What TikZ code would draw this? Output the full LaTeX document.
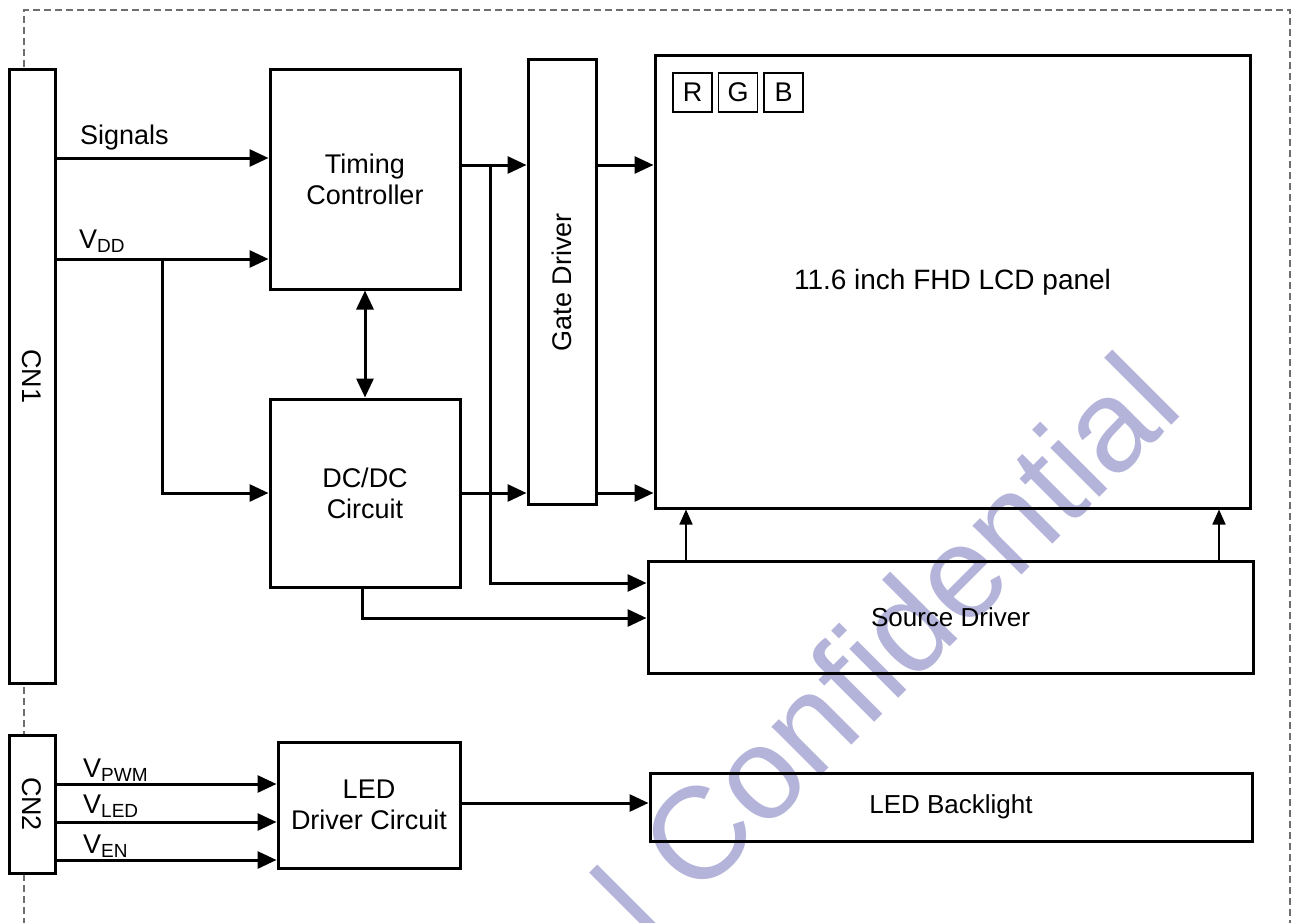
\documentclass[tikz,border=0pt]{standalone}
\usepackage{fontspec}
\setmainfont{Liberation Sans}
\usetikzlibrary{arrows.meta}
\definecolor{wmark}{RGB}{180,180,218}
\definecolor{dashgray}{RGB}{110,110,110}
\newcommand{\lbl}{\fontsize{27}{31}\selectfont}
\newcommand{\sbs}[1]{\raisebox{-4pt}{\fontsize{19}{19}\selectfont #1}}
\begin{document}
\begin{tikzpicture}[x=1pt,y=-1pt,
  box/.style={draw, line width=3pt, inner sep=0pt, align=center, font=\lbl},
  rgbbox/.style={draw, line width=1.3pt, inner sep=0pt, minimum width=39pt, minimum height=39pt, font=\lbl},
  txt/.style={inner sep=0pt, align=center, font=\lbl},
  arr/.style={line width=3pt, -{Triangle[length=19pt,width=17pt]}},
  darr/.style={line width=3pt, {Triangle[length=19pt,width=17pt]}-{Triangle[length=19pt,width=17pt]}},
  thinarr/.style={line width=1.6pt, -{Triangle[length=15pt,width=13pt]}}]
\clip (0,0) rectangle (1298,923);
% watermark
\node[inner sep=0pt, anchor=base east, rotate=45, text=wmark,
  font=\fontsize{131}{131}\selectfont] (wm) at (1186,411) {l Confidential};
% dashed frame
\draw[dashgray, line width=1.1pt, dash pattern=on 7pt off 4pt]
  (24,980) -- (24,10) -- (1290,10) -- (1290,980);
% row coordinates
\coordinate (ySig) at (0,158);
\coordinate (yVdd) at (0,259);
\coordinate (yTop) at (0,165);
\coordinate (yMid) at (0,493);
\coordinate (ySa) at (0,583);
\coordinate (ySb) at (0,618);
\coordinate (yPwm) at (0,784);
\coordinate (yLed) at (0,822);
\coordinate (yEn) at (0,860);
\coordinate (yBl) at (0,803);
\coordinate (xL) at (686,0);
\coordinate (xR) at (1219,0);
% boxes
\node[box, fill=white, minimum width=46pt, minimum height=613pt] (cn1) at (32,376.5) {};
\node[txt, rotate=-90] (cn1t) at (cn1.center) {CN1};
\node[box, fill=white, minimum width=46pt, minimum height=138pt] (cn2) at (32,804) {};
\node[txt, rotate=-90] (cn2t) at (cn2.center) {CN2};
\node[box, minimum width=190pt, minimum height=219pt] (tc) at (365,179.5) {Timing\\Controller};
\node[box, minimum width=190pt, minimum height=188pt] (dc) at (365,493) {DC/DC\\Circuit};
\node[box, minimum width=68pt, minimum height=444pt] (gd) at (562,282) {};
\node[txt, rotate=90] (gdt) at (gd.center) {Gate Driver};
\node[box, minimum width=595pt, minimum height=452pt] (panel) at (952.5,282) {};
\node[txt, font=\fontsize{28}{32}\selectfont] (panelt) at (panel.center) {11.6 inch FHD LCD panel};
\node[rgbbox] (r) at (692.5,92.5) {R};
\node[rgbbox] (g) at (738,92.5) {G};
\node[rgbbox] (b) at (783.5,92.5) {B};
\node[box, minimum width=605pt, minimum height=112pt, font=\fontsize{26}{30}\selectfont] (sd) at (950.5,617) {Source Driver};
\node[box, minimum width=182pt, minimum height=126pt] (ldc) at (369,805) {LED\\Driver Circuit};
\node[box, minimum width=602pt, minimum height=68pt, font=\fontsize{26}{30}\selectfont] (lb) at (951,807) {LED Backlight};
% labels
\node[txt, anchor=base west] (lsig) at (80,144) {Signals};
\node[txt, anchor=base west] (lvdd) at (79,248) {V\sbs{DD}};
\node[txt, anchor=base west] (lpwm) at (83,777) {V\sbs{PWM}};
\node[txt, anchor=base west] (lled) at (83,813) {V\sbs{LED}};
\node[txt, anchor=base west] (len) at (83,853) {V\sbs{EN}};
% connectors
\draw[arr] (cn1.east |- ySig) -- (tc.west |- ySig);
\draw[arr] (cn1.east |- yVdd) -- (tc.west |- yVdd);
\coordinate (j1) at (162,259);
\draw[arr] (j1) |- (dc.west |- yMid);
\draw[darr] (tc.south) -- (dc.north);
\draw[arr] (tc.east |- yTop) -- (gd.west |- yTop);
\draw[arr] (dc.east |- yMid) -- (gd.west |- yMid);
\draw[arr] (gd.east |- yTop) -- (panel.west |- yTop);
\draw[arr] (gd.east |- yMid) -- (panel.west |- yMid);
\coordinate (j2) at (490,165);
\draw[arr] (j2) |- (sd.west |- ySa);
\coordinate (j3) at (362,587);
\draw[arr] (j3) |- (sd.west |- ySb);
\draw[thinarr] (sd.north -| xL) -- (panel.south -| xL);
\draw[thinarr] (sd.north -| xR) -- (panel.south -| xR);
\draw[arr] (cn2.east |- yPwm) -- (ldc.west |- yPwm);
\draw[arr] (cn2.east |- yLed) -- (ldc.west |- yLed);
\draw[arr] (cn2.east |- yEn) -- (ldc.west |- yEn);
\draw[arr] (ldc.east |- yBl) -- (lb.west |- yBl);
\end{tikzpicture}
\end{document}
